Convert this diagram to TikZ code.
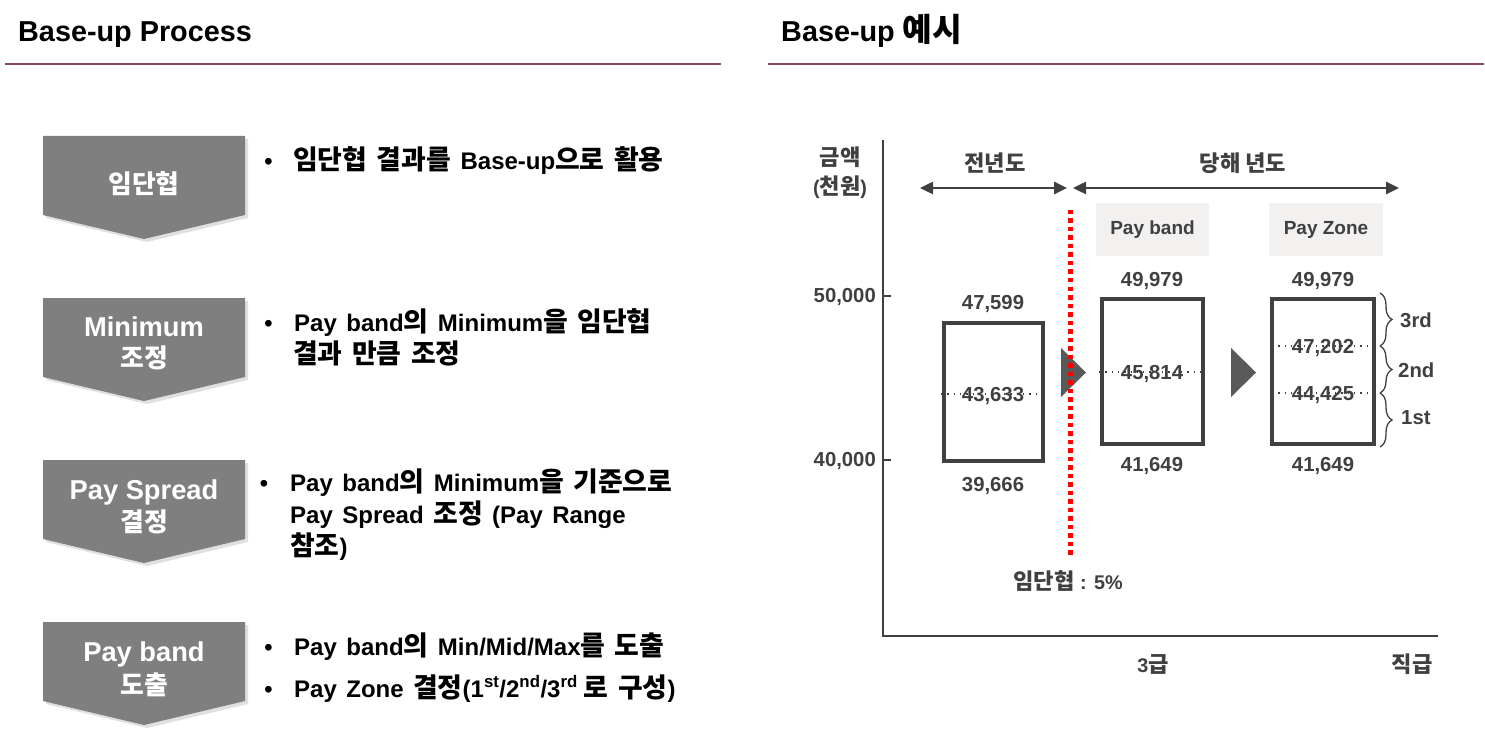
\documentclass[tikz,border=0pt]{standalone}
\usepackage{fontspec}
\setmainfont{Liberation Sans}
\newfontfamily\krfont{Noto Sans CJK KR}[Scale=1.12]
\usetikzlibrary{arrows.meta,decorations.pathreplacing}
\definecolor{hdr}{RGB}{140,72,92}
\definecolor{chev}{RGB}{127,127,127}
\definecolor{dk}{RGB}{64,64,64}
\definecolor{tri}{RGB}{89,89,89}
\definecolor{hbox}{RGB}{243,240,240}
\definecolor{redl}{RGB}{255,0,0}
\newcommand\K[1]{{\krfont\spaceskip 9.5pt\relax #1}}
\newcommand\fs[1]{\fontsize{#1}{#1}\selectfont}
\newcommand\widesp{\spaceskip 9.5pt\relax}
\begin{document}
\begin{tikzpicture}[x=1pt,y=-1pt,
  title/.style={anchor=base west,inner sep=0,font=\fs{28.8}\bfseries},
  hdrline/.style={draw=hdr,line width=2pt},
  chevshape/.style={fill=chev},
  chevshadow/.style={fill=black,opacity=0.12},
  ctext/.style={anchor=base,inner sep=0,text=white,font=\fs{27.3}\bfseries},
  ctextk/.style={anchor=base,inner sep=0,text=white,font=\fs{23.05}\bfseries},
  btext/.style={anchor=base west,inner sep=0,font=\fs{24}\bfseries\widesp},
  bdot/.style={anchor=base,inner sep=0,font=\fs{23.5}\bfseries},
  ctxt/.style={anchor=base,inner sep=0,text=dk,font=\fs{20.3}\bfseries},
  cktxt/.style={anchor=base,inner sep=0,text=dk,font=\fs{19.8}\bfseries},
  axisline/.style={draw=dk,line width=2pt},
  dblarrow/.style={draw=dk,line width=2.5pt,{Triangle[length=13pt,width=12pt]}-{Triangle[length=13pt,width=12pt]}},
  reddot/.style={draw=redl,line width=4.5pt,dash pattern=on 4.5pt off 4pt},
  bandbox/.style={draw=dk,line width=4pt,fill=white,inner sep=0},
  midline/.style={draw=dk,line width=1.3pt,dash pattern=on 1.3pt off 5pt},
  hdrbox/.style={fill=hbox,inner sep=0,text=dk,font=\fs{19}\bfseries},
  brc/.style={draw=dk,line width=1.3pt,decorate,decoration={brace,amplitude=12pt}},
  tris/.style={fill=tri}
]
\useasboundingbox (0,0) rectangle (1485,735);

% headers
\node[title] (t1) at (18,42) {Base-up Process};
\node[title] (t2) at (781,42) {Base-up {\krfont 예시}};
\draw[hdrline] (5,64) -- (721,64);
\draw[hdrline] (768,64) -- (1484,64);

% chevrons
\foreach \T in {136,298,460,622}{
  \fill[chevshadow] (46,\T+3) -- (248,\T+3) -- (248,\T+82) -- (147,\T+106) -- (46,\T+82) -- cycle;
  \fill[chevshape] (43,\T) -- (245,\T) -- (245,\T+79) -- (144,\T+103) -- (43,\T+79) -- cycle;
}
\node[ctextk] (c1) at (144,193.5) {{\krfont 임단협}};
\node[ctext] (c2a) at (144,336) {Minimum};
\node[ctextk] (c2b) at (144,367.5) {{\krfont 조정}};
\node[ctext] (c3a) at (144,499) {Pay Spread};
\node[ctextk] (c3b) at (144,531.5) {{\krfont 결정}};
\node[ctext] (c4a) at (144,661) {Pay band};
\node[ctextk] (c4b) at (144,694.5) {{\krfont 도출}};

% bullets
\node[bdot] (d1) at (268.5,170) {\textbullet};
\node[btext] (b1) at (293,170) {\K{임단협 결과를} Base-up\K{으로 활용}};
\node[bdot] (d2) at (268.5,331) {\textbullet};
\node[btext] (b2a) at (294,331) {Pay band\K{의} Minimum\K{을 임단협}};
\node[btext] (b2b) at (293,363) {\K{결과 만큼 조정}};
\node[bdot] (d3) at (264,491) {\textbullet};
\node[btext] (b3a) at (290,491) {Pay band\K{의} Minimum\K{을 기준으로}};
\node[btext] (b3b) at (290,523) {Pay Spread \K{조정} (Pay Range};
\node[btext] (b3c) at (290,555) {\K{참조})};
\node[bdot] (d4) at (268.5,655) {\textbullet};
\node[btext] (b4a) at (294,655) {Pay band\K{의} Min/Mid/Max\K{를 도출}};
\node[bdot] (d5) at (268.5,697) {\textbullet};
\node[btext] (b4b) at (294,697) {Pay Zone \K{결정}(1\textsuperscript{st}/2\textsuperscript{nd}/3\textsuperscript{rd}\hspace{6pt}\K{로 구성})};

% chart axes
\draw[axisline] (883,140) -- (883,635.5) -- (1438,635.5);
\draw[axisline] (883,296) -- (891,296);
\draw[axisline] (883,460) -- (891,460);
\node[ctxt,anchor=base east] (y50) at (876,302.5) {50,000};
\node[ctxt,anchor=base east] (y40) at (876,466.5) {40,000};
\node[cktxt] (ya) at (840,166) {{\krfont 금액}};
\node[cktxt] (yb) at (840,195) {({\krfont 천원})};

% period arrows
\coordinate (a1) at (920,188);
\coordinate (a2) at (1067,188);
\coordinate (a3) at (1073,188);
\coordinate (a4) at (1399,188);
\draw[dblarrow] (a1) -- (a2);
\draw[dblarrow] (a3) -- (a4);
\node[cktxt] (p1) at (995,172) {{\krfont 전년도}};
\node[cktxt] (p2) at (1243,172) {{\krfont 당해 년도}};

% header boxes
\node[hdrbox,minimum width=113,minimum height=52.5] (hb1) at (1152.5,229.5) {Pay band};
\node[hdrbox,minimum width=114,minimum height=52.5] (hb2) at (1326,229.5) {Pay Zone};

% boxes
\node[bandbox,minimum width=99.5,minimum height=138.5] (bx1) at (993.25,391.75) {};
\node[bandbox,minimum width=101.5,minimum height=144.5] (bx2) at (1152.25,371.25) {};
\node[bandbox,minimum width=102,minimum height=144.5] (bx3) at (1323,371.25) {};

% mid lines
\draw[midline] (941,394) -- (1045,394);
\draw[midline] (1099,372) -- (1205,372);
\draw[midline] (1272,346) -- (1374,346);
\draw[midline] (1272,393) -- (1374,393);

% values
\node[ctxt] (v1) at (993,309.5) {47,599};
\node[ctxt] (v2) at (993,401) {43,633};
\node[ctxt] (v3) at (993,491.5) {39,666};
\node[ctxt] (v4) at (1152,286.5) {49,979};
\node[ctxt] (v5) at (1152,379) {45,814};
\node[ctxt] (v6) at (1152,471) {41,649};
\node[ctxt] (v7) at (1323,286.5) {49,979};
\node[ctxt] (v8) at (1323,353) {47,202};
\node[ctxt] (v9) at (1323,400) {44,425};
\node[ctxt] (v10) at (1323,471) {41,649};

% triangles
\fill[tris] (1061,348) -- (1086,372.5) -- (1061,397) -- cycle;
\fill[tris] (1231,348) -- (1256,372.5) -- (1231,397) -- cycle;

% red dotted line
\draw[reddot] (1070.5,210) -- (1070.5,555);
\node[cktxt] (rl) at (1068,589) {{\krfont 임단협} : 5\%};

% braces
\draw[brc] (1380,293) -- (1380,346);
\draw[brc] (1380,346) -- (1380,393);
\draw[brc] (1380,393) -- (1380,447);
\node[ctxt,anchor=base west] (z3) at (1400,327.5) {3rd};
\node[ctxt,anchor=base west] (z2) at (1398,377.5) {2nd};
\node[ctxt,anchor=base west] (z1) at (1401,424.5) {1st};

% x labels
\node[cktxt] (x1) at (1153,672) {3{\krfont 급}};
\node[cktxt] (x2) at (1412,672) {{\krfont 직급}};
\end{tikzpicture}
\end{document}
